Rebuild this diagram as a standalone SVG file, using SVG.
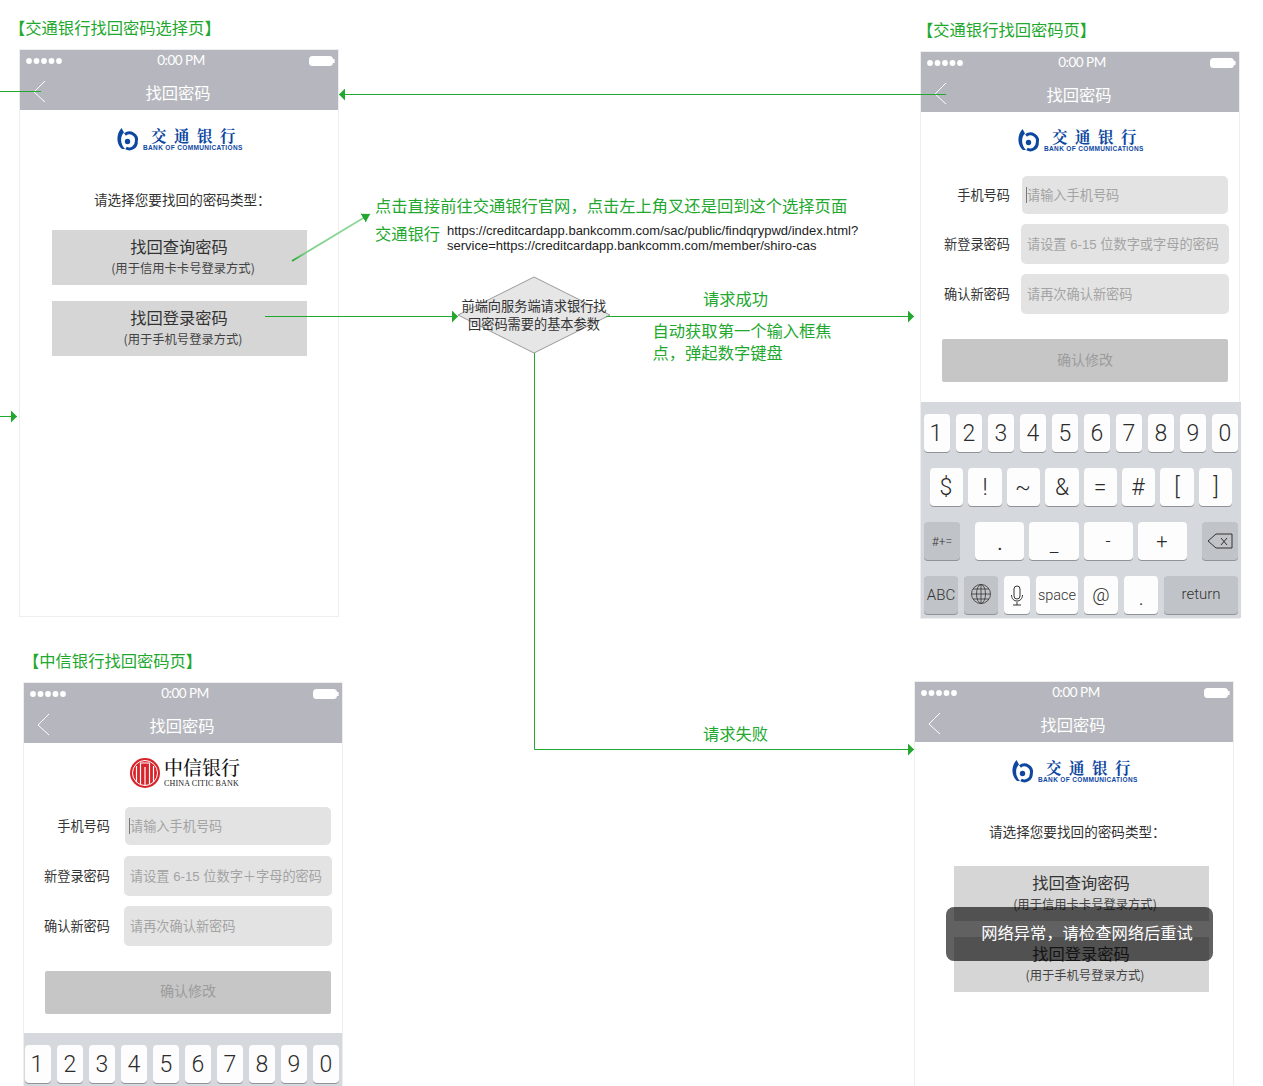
<svg xmlns="http://www.w3.org/2000/svg" xmlns:xlink="http://www.w3.org/1999/xlink" width="1263" height="1086" viewBox="0 0 1263 1086">
<style>
text{font-family:"Noto Sans CJK SC","Liberation Sans",sans-serif}
.g{fill:#22a82e;font-size:16.3px}
.frame{fill:#fff;stroke:#eeeeee;stroke-width:1}
.hd{fill:#b6b7be}
.time{fill:#fff;font-size:13.5px;font-family:Lato,"Liberation Sans",sans-serif;text-anchor:middle;letter-spacing:-.5px}
.ttl{fill:#fff;font-size:16.3px;text-anchor:middle}
.back{fill:none;stroke:#fff;stroke-width:1}
.btn{fill:#d6d6d6}
.b1{fill:#333;font-size:16.3px;text-anchor:middle}
.b2{fill:#444;font-size:12.3px;text-anchor:middle}
.p{fill:#333;font-size:13.6px}
.lb{fill:#333;font-size:13.2px;text-anchor:end}
.inp{fill:#e3e3e3}
.ph{fill:#a3a3a3;font-size:13.2px;font-family:"Liberation Sans","Noto Sans CJK SC",sans-serif}
.sub{fill:#c6c6c6}
.subt{fill:#9c9c9c;font-size:14px;text-anchor:middle}
.kb{fill:#d5d8dc}
.k{fill:#fdfdfd;filter:drop-shadow(0 1px 0 #8f9296)}
.kd{fill:#c0c3c7;filter:drop-shadow(0 1px 0 #8f9296)}
.kt{fill:#2b2b2b;font-family:Roboto,"Liberation Sans",sans-serif;font-weight:300;font-size:23px;text-anchor:middle}
.ks{fill:#333;font-family:Roboto,"Liberation Sans",sans-serif;font-weight:300;font-size:15px;text-anchor:middle}
.c{fill:none;stroke:#22a82e;stroke-width:1}
.bc{font-family:"Noto Serif CJK SC","Noto Sans CJK SC",serif;font-weight:700;fill:#0d479f;font-size:15.5px;letter-spacing:7.5px}
.bs{font-family:"Liberation Sans",sans-serif;font-weight:700;fill:#0d479f;font-size:6.5px;letter-spacing:.35px}
.url{fill:#222;font-family:"Liberation Sans",sans-serif;font-size:13px}
.dt{fill:#333;font-size:13.2px;text-anchor:middle}
</style>
<defs>
<marker id="a" markerWidth="7" markerHeight="12" refX="6" refY="6" orient="auto" markerUnits="userSpaceOnUse"><path d="M0 0L6 6L0 12Z" fill="#22a82e"/></marker>
<marker id="b" markerWidth="10" markerHeight="10" refX="8" refY="5" orient="auto" markerUnits="userSpaceOnUse"><path d="M0 0L8 5L0 10Z" fill="#22a82e"/></marker>
<linearGradient id="fade" gradientUnits="userSpaceOnUse" x1="292" y1="261" x2="366" y2="217"><stop offset="0" stop-color="#22a82e"/><stop offset=".2" stop-color="#7fd18a"/><stop offset="1" stop-color="#8fd99a"/></linearGradient>
<g id="dots" fill="#fff"><circle cx="0" cy="0" r="2.9"/><circle cx="7.5" cy="0" r="2.9"/><circle cx="15" cy="0" r="2.9"/><circle cx="22.5" cy="0" r="2.9"/><circle cx="30" cy="0" r="2.9"/></g>
<g id="batt" fill="#fff"><rect x="0" y="-5" width="24" height="10" rx="3.5"/><rect x="24" y="-2" width="1.6" height="4"/></g>
<g id="boc" fill="#0d479f"><path d="M-6.500 -11C-12 -5 -12 5 -6 10L-3 10C-8 5 -8 -3 -4 -6.500Z"/><path d="M-3 -4.500A7 7 0 0 1 8.300 2.500A7 7 0 0 1 -2 9" fill="none" stroke="#0d479f" stroke-width="3"/><circle cx="-.5" cy="2.500" r="2.700"/></g>
</defs>

<g id="labels">
<text class="g" x="9" y="34">【交通银行找回密码选择页】</text>
<text class="g" x="917" y="36">【交通银行找回密码页】</text>
<text class="g" x="23" y="667">【中信银行找回密码页】</text>
<text class="g" x="375" y="212">点击直接前往交通银行官网&#xFF0C;点击左上角叉还是回到这个选择页面</text>
<text class="g" x="375" y="240">交通银行</text>
<text class="url" x="447" y="235">https://creditcardapp.bankcomm.com/sac/public/findqrypwd/index.html?</text>
<text class="url" x="447" y="250">service=https://creditcardapp.bankcomm.com/member/shiro-cas</text>
<text class="g" x="703" y="305">请求成功</text>
<text class="g" x="652.500" y="337">自动获取第一个输入框焦</text>
<text class="g" x="652.500" y="359">点&#xFF0C;弹起数字键盘</text>
<text class="g" x="703" y="740">请求失败</text>
</g>

<g id="phone-select">
<rect class="frame" x="19.500" y="49.500" width="319" height="567"/>
<rect class="hd" x="20" y="50" width="318" height="60"/>
<use xlink:href="#dots" href="#dots" x="29" y="61"/>
<text class="time" x="181" y="65">0:00 PM</text>
<use xlink:href="#batt" href="#batt" x="309" y="61"/>
<path class="back" d="M45 81L34 92L45 102"/>
<text class="ttl" x="178" y="99">找回密码</text>
<use xlink:href="#boc" href="#boc" x="128" y="139"/>
<text class="bc" x="151" y="142">交通银行</text>
<text class="bs" x="143" y="150">BANK OF COMMUNICATIONS</text>
<text class="p" x="94" y="205">请选择您要找回的密码类型&#xFF1A;</text>
<rect class="btn" x="52" y="230" width="255" height="55"/>
<text class="b1" x="179" y="253">找回查询密码</text>
<text class="b2" x="183" y="273">(用于信用卡卡号登录方式)</text>
<rect class="btn" x="52" y="301" width="255" height="55"/>
<text class="b1" x="179" y="324">找回登录密码</text>
<text class="b2" x="183" y="344">(用于手机号登录方式)</text>
</g>

<g id="phone-bocom-form">
<rect class="frame" x="920.500" y="51.500" width="319" height="567"/>
<rect class="hd" x="921" y="52" width="318" height="60"/>
<use xlink:href="#dots" href="#dots" x="930" y="63"/>
<text class="time" x="1082" y="67">0:00 PM</text>
<use xlink:href="#batt" href="#batt" x="1210" y="63"/>
<path class="back" d="M946 83L935 94L946 104"/>
<text class="ttl" x="1079" y="101">找回密码</text>
<use xlink:href="#boc" href="#boc" x="1029" y="140"/>
<text class="bc" x="1052" y="143">交通银行</text>
<text class="bs" x="1044" y="151">BANK OF COMMUNICATIONS</text>
<text class="lb" x="1010" y="200">手机号码</text>
<text class="lb" x="1010" y="249">新登录密码</text>
<text class="lb" x="1010" y="299">确认新密码</text>
<rect class="inp" x="1022" y="176" width="206" height="38" rx="5"/>
<rect class="inp" x="1021" y="224" width="208" height="40" rx="5"/>
<rect class="inp" x="1021" y="274" width="208" height="40" rx="5"/>
<path d="M1026.500 187V203" stroke="#777" fill="none"/>
<text class="ph" x="1027" y="200">请输入手机号码</text>
<text class="ph" x="1027" y="249">请设置 6-15 位数字或字母的密码</text>
<text class="ph" x="1027" y="299">请再次确认新密码</text>
<rect class="sub" x="942" y="339" width="286" height="43" rx="2"/>
<text class="subt" x="1085" y="365">确认修改</text>
<rect class="kb" x="921" y="402" width="320" height="216"/>
<g id="kb-row1">
<rect class="k" x="924" y="414" width="26" height="38" rx="4"/><rect class="k" x="956" y="414" width="26" height="38" rx="4"/><rect class="k" x="988" y="414" width="26" height="38" rx="4"/><rect class="k" x="1020" y="414" width="26" height="38" rx="4"/><rect class="k" x="1052" y="414" width="26" height="38" rx="4"/><rect class="k" x="1084" y="414" width="26" height="38" rx="4"/><rect class="k" x="1116" y="414" width="26" height="38" rx="4"/><rect class="k" x="1148" y="414" width="26" height="38" rx="4"/><rect class="k" x="1180" y="414" width="26" height="38" rx="4"/><rect class="k" x="1212" y="414" width="26" height="38" rx="4"/>
<text class="kt" x="936" y="441">1</text><text class="kt" x="969" y="441">2</text><text class="kt" x="1001" y="441">3</text><text class="kt" x="1033" y="441">4</text><text class="kt" x="1065" y="441">5</text><text class="kt" x="1097" y="441">6</text><text class="kt" x="1129" y="441">7</text><text class="kt" x="1161" y="441">8</text><text class="kt" x="1193" y="441">9</text><text class="kt" x="1225" y="441">0</text>
</g>
<g id="kb-row2">
<rect class="k" x="930" y="468" width="33" height="38" rx="4"/><rect class="k" x="968" y="468" width="34" height="38" rx="4"/><rect class="k" x="1007" y="468" width="33" height="38" rx="4"/><rect class="k" x="1045" y="468" width="34" height="38" rx="4"/><rect class="k" x="1084" y="468" width="33" height="38" rx="4"/><rect class="k" x="1122" y="468" width="33" height="38" rx="4"/><rect class="k" x="1160" y="468" width="34" height="38" rx="4"/><rect class="k" x="1199" y="468" width="33" height="38" rx="4"/>
<text class="kt" x="946" y="495">$</text><text class="kt" x="985" y="495">!</text><text class="kt" x="1023" y="495">~</text><text class="kt" x="1062" y="495">&amp;</text><text class="kt" x="1100" y="495">=</text><text class="kt" x="1138" y="495">#</text><text class="kt" x="1177" y="495">[</text><text class="kt" x="1216" y="495">]</text>
</g>
<g id="kb-row3">
<rect class="kd" x="924" y="522" width="36" height="38" rx="4"/><rect class="k" x="975" y="522" width="49" height="38" rx="4"/><rect class="k" x="1029" y="522" width="50" height="38" rx="4"/><rect class="k" x="1084" y="522" width="49" height="38" rx="4"/><rect class="k" x="1138" y="522" width="49" height="38" rx="4"/><rect class="kd" x="1202" y="522" width="36" height="38" rx="4"/>
<text class="ks" x="942" y="546" style="font-size:12px">#+=</text><text class="kt" x="1000" y="550" style="font-size:20px;font-weight:400">.</text><text class="kt" x="1054" y="552" style="font-size:20px">_</text><text class="kt" x="1108" y="547" style="font-size:18px">-</text><text class="kt" x="1162" y="548" style="font-size:20px">+</text>
<path d="M1208 541L1216 534H1232V548H1216Z M1221 538L1227 545M1227 538L1221 545" fill="none" stroke="#333"/>
</g>
<g id="kb-row4">
<rect class="kd" x="924" y="576" width="34" height="38" rx="4"/><rect class="kd" x="964" y="576" width="34" height="38" rx="4"/><rect class="k" x="1004" y="576" width="26" height="38" rx="4"/><rect class="k" x="1036" y="576" width="42" height="38" rx="4"/><rect class="k" x="1084" y="576" width="34" height="38" rx="4"/><rect class="k" x="1124" y="576" width="34" height="38" rx="4"/><rect class="kd" x="1164" y="576" width="74" height="38" rx="4"/>
<text class="ks" x="941" y="600">ABC</text>
<g fill="none" stroke="#333" stroke-width=".8"><circle cx="981" cy="594" r="9.500"/><ellipse cx="981" cy="594" rx="4.500" ry="9.500"/><path d="M981 584.500V603.500M971.500 594H990.500M973 589H989M973 599H989"/></g>
<path d="M1017 586a3 3 0 0 1 3 3v7a3 3 0 0 1-6 0v-7a3 3 0 0 1 3-3ZM1011.500 595c0 8 11 8 11 0M1017 602V605M1013 605H1021" fill="none" stroke="#333"/>
<text class="ks" x="1057" y="600" style="font-size:14.500px">space</text><text class="kt" x="1101" y="601" style="font-size:19px">@</text><text class="kt" x="1141" y="605" style="font-size:16px;font-weight:400">.</text><text class="ks" x="1201" y="599">return</text>
</g>
</g>

<g id="phone-citic-form">
<rect class="frame" x="23.500" y="682.500" width="319" height="420"/>
<rect class="hd" x="24" y="683" width="318" height="60"/>
<use xlink:href="#dots" href="#dots" x="33" y="694"/>
<text class="time" x="185" y="698">0:00 PM</text>
<use xlink:href="#batt" href="#batt" x="313" y="694"/>
<path class="back" d="M49 714L38 725L49 735"/>
<text class="ttl" x="182" y="732">找回密码</text>
<circle cx="145" cy="773" r="15" fill="#d8232a"/>
<circle cx="145" cy="773" r="12.500" fill="none" stroke="#fff" stroke-width="1"/>
<path d="M136.500 782V766M140.500 784V763H149.500V784M145 785V767M153.500 782V766" stroke="#fff" stroke-width="1.200" fill="none"/>
<text x="164" y="775" style="font-family:'Noto Serif CJK SC','Noto Sans CJK SC',serif;font-weight:500;font-size:19px;fill:#111">中信银行</text>
<text x="164" y="786" style="font-family:'Liberation Serif',serif;font-size:8px;fill:#222;letter-spacing:.15px">CHINA CITIC BANK</text>
<text class="lb" x="110" y="831">手机号码</text>
<text class="lb" x="110" y="881">新登录密码</text>
<text class="lb" x="110" y="931">确认新密码</text>
<rect class="inp" x="125" y="807" width="206" height="38" rx="5"/>
<rect class="inp" x="124" y="856" width="208" height="40" rx="5"/>
<rect class="inp" x="124" y="906" width="208" height="40" rx="5"/>
<path d="M129.500 818V834" stroke="#777" fill="none"/>
<text class="ph" x="130" y="831">请输入手机号码</text>
<text class="ph" x="130" y="881">请设置 6-15 位数字&#xFF0B;字母的密码</text>
<text class="ph" x="130" y="931">请再次确认新密码</text>
<rect class="sub" x="45" y="971" width="286" height="43" rx="2"/>
<text class="subt" x="188" y="996">确认修改</text>
<rect class="kb" x="24" y="1033" width="318" height="53"/>
<g id="kb2-row1">
<rect class="k" x="25" y="1045" width="26" height="38" rx="4"/><rect class="k" x="57" y="1045" width="26" height="38" rx="4"/><rect class="k" x="89" y="1045" width="26" height="38" rx="4"/><rect class="k" x="121" y="1045" width="26" height="38" rx="4"/><rect class="k" x="153" y="1045" width="26" height="38" rx="4"/><rect class="k" x="185" y="1045" width="26" height="38" rx="4"/><rect class="k" x="217" y="1045" width="26" height="38" rx="4"/><rect class="k" x="249" y="1045" width="26" height="38" rx="4"/><rect class="k" x="281" y="1045" width="26" height="38" rx="4"/><rect class="k" x="313" y="1045" width="26" height="38" rx="4"/>
<text class="kt" x="37" y="1072">1</text><text class="kt" x="70" y="1072">2</text><text class="kt" x="102" y="1072">3</text><text class="kt" x="134" y="1072">4</text><text class="kt" x="166" y="1072">5</text><text class="kt" x="198" y="1072">6</text><text class="kt" x="230" y="1072">7</text><text class="kt" x="262" y="1072">8</text><text class="kt" x="294" y="1072">9</text><text class="kt" x="326" y="1072">0</text>
</g>
</g>

<g id="phone-fail">
<rect class="frame" x="914.500" y="681.500" width="319" height="420"/>
<rect class="hd" x="915" y="682" width="318" height="60"/>
<use xlink:href="#dots" href="#dots" x="924" y="693"/>
<text class="time" x="1076" y="697">0:00 PM</text>
<use xlink:href="#batt" href="#batt" x="1204" y="693"/>
<path class="back" d="M940 713L929 724L940 734"/>
<text class="ttl" x="1073" y="731">找回密码</text>
<use xlink:href="#boc" href="#boc" x="1023" y="771"/>
<text class="bc" x="1046" y="774">交通银行</text>
<text class="bs" x="1038" y="782">BANK OF COMMUNICATIONS</text>
<text class="p" x="989" y="837">请选择您要找回的密码类型&#xFF1A;</text>
<rect class="btn" x="954" y="866" width="255" height="55"/>
<text class="b1" x="1081" y="889">找回查询密码</text>
<text class="b2" x="1085" y="909">(用于信用卡卡号登录方式)</text>
<rect class="btn" x="954" y="937" width="255" height="55"/>
<text class="b1" x="1081" y="960">找回登录密码</text>
<text class="b2" x="1085" y="980">(用于手机号登录方式)</text>
<rect x="946" y="907" width="267" height="54" rx="8" fill="#000" fill-opacity=".62"/>
<text x="1087" y="939" style="fill:#fff;font-size:16.300px;text-anchor:middle">网络异常&#xFF0C;请检查网络后重试</text>
</g>

<g id="decision">
<path d="M534 277L610 315L534 353L458 315Z" fill="#e6e6e6" stroke="#999"/>
<text class="dt" x="534" y="311">前端向服务端请求银行找</text>
<text class="dt" x="534" y="329">回密码需要的基本参数</text>
</g>

<g id="connectors">
<path class="c" d="M0 91.500H41"/>
<path class="c" d="M946 94.500H339" marker-end="url(#a)"/>
<path class="c" d="M0 416.500H17" marker-end="url(#a)"/>
<path d="M292 261L370 214" fill="none" stroke="url(#fade)" stroke-width="1.800" marker-end="url(#b)"/>
<path class="c" d="M265 316.500H458" marker-end="url(#a)"/>
<path class="c" d="M606 316.500H914" marker-end="url(#a)"/>
<path class="c" d="M534.500 353V749.500H914" marker-end="url(#a)"/>
</g>
</svg>
